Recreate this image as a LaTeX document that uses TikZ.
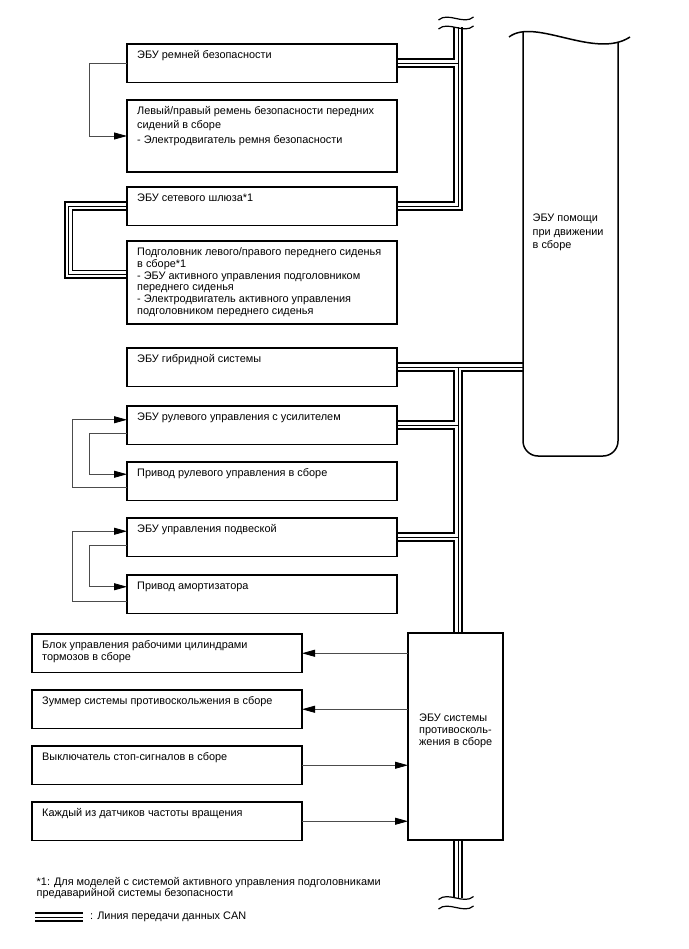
\documentclass[tikz,border=0pt]{standalone}
\usepackage{fontspec}
\setmainfont{Liberation Sans}
\usetikzlibrary{arrows.meta,positioning,backgrounds,calc}

\begin{document}
\begin{tikzpicture}[x=1pt, y=1pt,
  ecu/.style={rectangle, draw=black, line width=1.5pt, minimum width=270pt, minimum height=38.5pt, inner sep=0pt, outer sep=0pt},
  txt/.style={inner sep=0pt, align=left, font=\fontsize{10.9}{12}\selectfont},
  sig/.style={draw=black!70, line width=0.8pt, -{Triangle[length=13pt, width=7pt, color=black]}},
  wave/.style={draw=black, line width=1.2pt}
]
\useasboundingbox (0,0) rectangle (688,-949);

% блоки слева от шины
\node[ecu] (seatecu) at (262,-63.25) {};
\node[ecu, minimum height=72pt, below=17.5pt of seatecu] (belt) {};
\node[ecu, below=15pt of belt] (gateway) {};
\node[ecu, minimum height=83pt, below=15.5pt of gateway] (headrest) {};
\node[ecu, below=24pt of headrest] (hybrid) {};
\node[ecu, below=19.5pt of hybrid] (eps) {};
\node[ecu, below=17.5pt of eps] (steer) {};
\node[ecu, below=17.5pt of steer] (susp) {};
\node[ecu, below=18.5pt of susp] (absorber) {};

\node[ecu] (brake) at (167,-653.25) {};
\node[ecu, below=17.5pt of brake] (buzzer) {};
\node[ecu, below=17.5pt of buzzer] (stop) {};
\node[ecu, below=17.5pt of stop] (sensors) {};

\node[ecu, minimum width=95pt, minimum height=207pt] (skid) at (455.5,-736.5) {};
\node[minimum width=95pt, minimum height=420pt, inner sep=0pt, outer sep=0pt] (assist) at (570.5,-246) {};

\node[txt, below right=6.5pt and 10pt of seatecu.north west] (seatecutxt) {ЭБУ ремней безопасности};
\node[txt, font=\fontsize{10.9}{13.3}\selectfont, below right=6.5pt and 10pt of belt.north west] (belttxt) {Левый/правый ремень безопасности передних\\сидений в сборе\\[1.7pt]- Электродвигатель ремня безопасности};
\node[txt, below right=6.5pt and 10pt of gateway.north west] (gatewaytxt) {ЭБУ сетевого шлюза*1};
\node[txt, font=\fontsize{10.9}{11.8}\selectfont, below right=6.5pt and 10pt of headrest.north west] (headresttxt) {Подголовник левого/правого переднего сиденья\\в сборе*1\\- ЭБУ активного управления подголовником\\переднего сиденья\\- Электродвигатель активного управления\\подголовником переднего сиденья};
\node[txt, below right=6.5pt and 10pt of hybrid.north west] (hybridtxt) {ЭБУ гибридной системы};
\node[txt, below right=6.5pt and 10pt of eps.north west] (epstxt) {ЭБУ рулевого управления с усилителем};
\node[txt, below right=6.5pt and 10pt of steer.north west] (steertxt) {Привод рулевого управления в сборе};
\node[txt, below right=6.5pt and 10pt of susp.north west] (susptxt) {ЭБУ управления подвеской};
\node[txt, below right=6.5pt and 10pt of absorber.north west] (absorbertxt) {Привод амортизатора};

\node[txt, font=\fontsize{10.9}{11.7}\selectfont, below right=6.5pt and 10pt of brake.north west] (braketxt) {Блок управления рабочими цилиндрами\\тормозов в сборе};
\node[txt, below right=6.5pt and 10pt of buzzer.north west] (buzzertxt) {Зуммер системы противоскольжения в сборе};
\node[txt, below right=6.5pt and 10pt of stop.north west] (stoptxt) {Выключатель стоп-сигналов в сборе};
\node[txt, below right=6.5pt and 10pt of sensors.north west] (sensorstxt) {Каждый из датчиков частоты вращения};

\node[txt, font=\fontsize{10.9}{11.7}\selectfont, below right=81pt and 11pt of skid.north west] (skidtxt) {ЭБУ системы\\противосколь-\\жения в сборе};
\node[txt, font=\fontsize{10.9}{13.5}\selectfont, below right=178pt and 9.5pt of assist.north west] (assisttxt) {ЭБУ помощи\\при движении\\в сборе};

% ЭБУ помощи: волнистый верх, скругленный низ
\draw[line width=1.5pt, rounded corners=15pt] ([yshift=4]assist.north west) -- (assist.south west) -- (assist.south east) -- ([yshift=-6]assist.north east);
\draw[line width=1.5pt] ([shift={(-14,-1)}]assist.north west) .. controls +(26,20) and +(-35,-23) .. ([shift={(12,-1)}]assist.north east);

% шина CAN
\coordinate (bustop) at (458,-27.5);
\coordinate (busbot) at (458,-898);
\coordinate (canA) at (35,-917);
\coordinate (canB) at (83,-917);
\begin{scope}[on background layer]
\foreach \lw/\lc in {9.8pt/black, 6.0pt/white, 0.9pt/black}{
  \draw[line width=\lw, draw=\lc] (bustop) |- (gateway.east);
  \draw[line width=\lw, draw=\lc] (seatecu.east) -- (seatecu.east -| bustop);
  \draw[line width=\lw, draw=\lc] (gateway.west) -- ++(-58.5,0) |- ([yshift=8]headrest.west);
  \draw[line width=\lw, draw=\lc] (hybrid.east) -- (assist.west |- hybrid.east);
  \draw[line width=\lw, draw=\lc] (hybrid.east -| bustop) -- (bustop |- skid.north);
  \draw[line width=\lw, draw=\lc] (eps.east) -- (eps.east -| bustop);
  \draw[line width=\lw, draw=\lc] (susp.east) -- (susp.east -| bustop);
  \draw[line width=\lw, draw=\lc] (bustop |- skid.south) -- (busbot);
  \draw[line width=\lw, draw=\lc] (canA) -- (canB);
}
\end{scope}

\coordinate (wt1) at (456,-18.5);
\coordinate (wt2) at (456,-27.5);
\coordinate (wb1) at (456,-898);
\coordinate (wb2) at (456,-907.5);
\foreach \w in {wt1,wt2,wb1,wb2}
  \draw[wave] ([shift={(-17.5,-1.5)}]\w) .. controls +(9.5,8.5) and +(-9.5,-8.5) .. ([shift={(17.5,1.5)}]\w);

\draw[sig] (seatecu.west) -- ++(-38,0) |- (belt.west);
\draw[sig] ([yshift=-8]eps.west) -- ++(-38,0) |- ([yshift=7]steer.west);
\draw[sig] ([yshift=-6.5]steer.west) -- ++(-55,0) |- ([yshift=5.5]eps.west);
\draw[sig] ([yshift=-8.5]susp.west) -- ++(-38,0) |- ([yshift=7.5]absorber.west);
\draw[sig] ([yshift=-7]absorber.west) -- ++(-55,0) |- ([yshift=6]susp.west);

\draw[sig] (skid.west |- brake.east) -- (brake.east);
\draw[sig] (skid.west |- buzzer.east) -- (buzzer.east);
\draw[sig] (stop.east) -- (skid.west |- stop.east);
\draw[sig] (sensors.east) -- (skid.west |- sensors.east);

\node[txt, font=\fontsize{10.9}{11}\selectfont, anchor=north west] (note) at (36.5,-877.5) {*1: Для моделей с системой активного управления подголовниками\\предаварийной системы безопасности};
\node[txt, right=7pt of canB] (cantxt) {: Линия передачи данных CAN};
\end{tikzpicture}
\end{document}
